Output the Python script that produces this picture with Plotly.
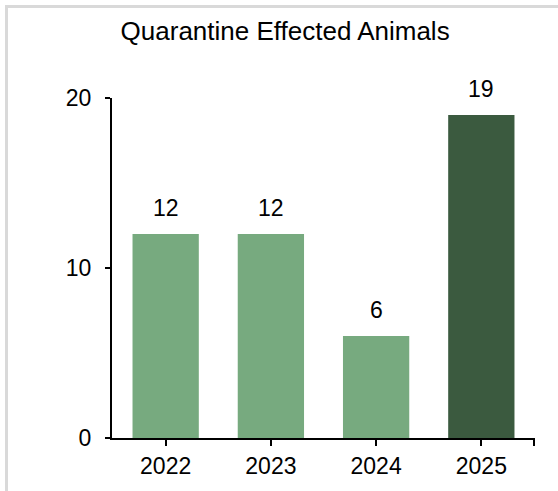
import plotly.graph_objects as go

# Yearly counts of animals affected by quarantine
years = ["2022", "2023", "2024", "2025"]
counts = [12, 12, 6, 19]
bar_colors = ["#77AA7F", "#77AA7F", "#77AA7F", "#3B5A3F"]
y_ticks = [0, 10, 20]

positions = list(range(len(years)))
font_family = "Arial, Liberation Sans, sans-serif"

fig = go.Figure()
fig.add_trace(go.Bar(
    x=positions,
    y=counts,
    marker=dict(color=bar_colors, line=dict(width=0)),
    width=0.63,
    hoverinfo="skip",
))

# value labels above each bar
for xp, v in zip(positions, counts):
    fig.add_annotation(
        x=xp, y=v, text=str(v), showarrow=False,
        yanchor="bottom", yshift=11,
        font=dict(family=font_family, size=23, color="#000000"),
    )

# light frame around the chart
fig.add_shape(
    type="rect", xref="paper", yref="paper",
    x0=-0.2494, x1=1.2, y0=-0.3, y1=1.269,
    line=dict(color="#D9D9D9", width=3), fillcolor="rgba(0,0,0,0)",
    layer="below",
)

fig.update_layout(
    width=558, height=491,
    margin=dict(l=112, r=23, t=98, b=53),
    paper_bgcolor="#FFFFFF", plot_bgcolor="#FFFFFF",
    showlegend=False,
    title=dict(
        text="Quarantine Effected Animals",
        x=0.511, xanchor="center", y=0.937, yanchor="middle",
        font=dict(family=font_family, size=26, color="#000000"),
    ),
    font=dict(family=font_family, color="#000000"),
)

fig.update_xaxes(
    range=[-0.51, 3.51],
    tickvals=positions + [3.5],
    ticktext=years + [""],
    ticks="outside", ticklen=6, tickwidth=2, tickcolor="#000000",
    showline=True, linecolor="#000000", linewidth=2,
    showgrid=False, zeroline=False,
    tickfont=dict(family=font_family, size=23, color="#000000"),
)
fig.update_yaxes(
    range=[0, 20],
    tickvals=y_ticks,
    ticks="outside", ticklen=5, tickwidth=2, tickcolor="#000000",
    showline=True, linecolor="#000000", linewidth=2,
    showgrid=False, zeroline=False,
    tickfont=dict(family=font_family, size=23, color="#000000"),
    ticklabelstandoff=9,
)

fig.write_html("out.html")
